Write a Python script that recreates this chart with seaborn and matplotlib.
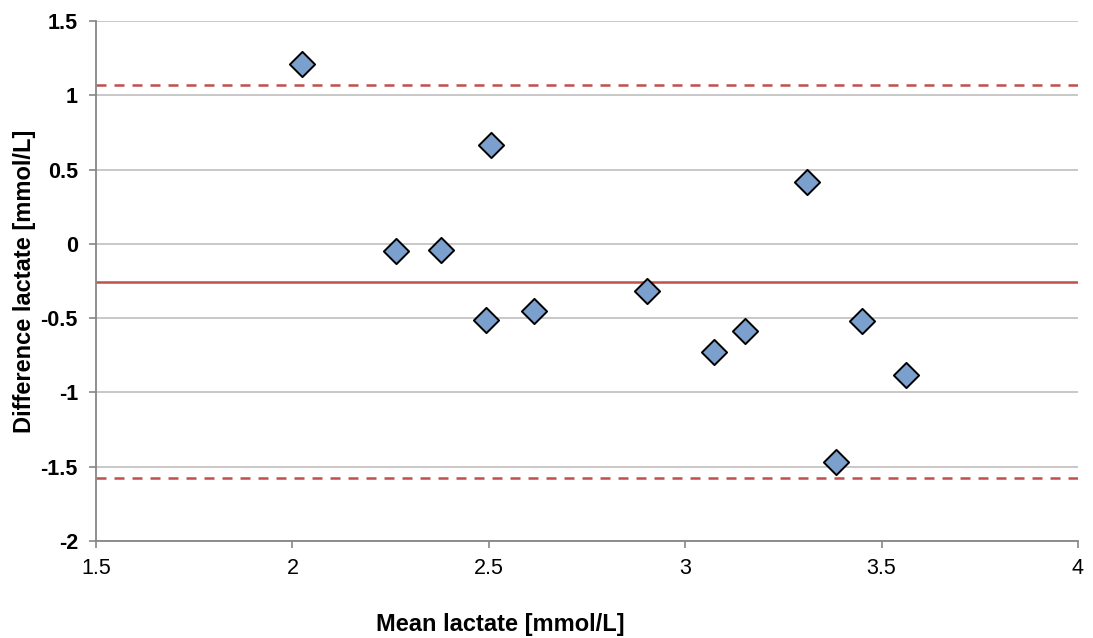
import matplotlib
matplotlib.use("Agg")
import matplotlib.pyplot as plt
import seaborn as sns
import pandas as pd

# Bland-Altman data: mean of the two lactate measurements vs. their difference
mean_lactate = [2.025, 2.263, 2.378, 2.505, 2.492, 2.615, 2.903, 3.074, 3.151, 3.311, 3.383, 3.449, 3.561]
diff_lactate = [1.21, -0.05, -0.04, 0.665, -0.515, -0.455, -0.32, -0.73, -0.585, 0.415, -1.465, -0.52, -0.885]

bias = -0.255
upper_loa = 1.067
lower_loa = -1.577

x_ticks = [1.5, 2, 2.5, 3, 3.5, 4]
y_ticks = [-2, -1.5, -1, -0.5, 0, 0.5, 1, 1.5]

df = pd.DataFrame({"mean": mean_lactate, "diff": diff_lactate})

sns.set_theme(style="white")
plt.rcParams["font.family"] = ["Liberation Sans", "DejaVu Sans"]
plt.rcParams["text.color"] = "black"
plt.rcParams["axes.labelcolor"] = "black"

fig = plt.figure(figsize=(10.93, 6.38), dpi=100)
ax = fig.add_axes([96 / 1093, 1 - 541 / 638, 982 / 1093, 520 / 638])

red = "#C0504D"
grid_c = "#BFBFBF"
spine_c = "#868686"

for yt in y_ticks:
    ax.axhline(yt, color=grid_c, lw=1.2, zorder=0)

ax.axhline(bias, color=red, lw=1.8, zorder=1)
ax.axhline(upper_loa, color=red, lw=1.8, ls=(0, (4, 3.2)), zorder=1)
ax.axhline(lower_loa, color=red, lw=1.8, ls=(0, (4, 3.2)), zorder=1)

sns.scatterplot(data=df, x="mean", y="diff", marker="D", s=165,
                color="#7BA0CD", edgecolor="black", linewidth=1.4,
                ax=ax, zorder=3, legend=False)

ax.set_xlim(1.5, 4)
ax.set_ylim(-2, 1.5)
ax.set_xticks(x_ticks)
ax.set_yticks(y_ticks)
ax.set_xticklabels([f"{v:g}" for v in x_ticks], fontsize=15.5, color="black")
ax.set_yticklabels([f"{v:g}" for v in y_ticks], fontsize=15.5,
                   fontweight="bold", color="black")

for side in ["top", "right"]:
    ax.spines[side].set_visible(False)
for side in ["left", "bottom"]:
    ax.spines[side].set_color(spine_c)
    ax.spines[side].set_linewidth(1.3)

ax.tick_params(axis="both", which="major", direction="out", length=5,
               width=1.2, color=spine_c, bottom=True, left=True)
ax.tick_params(axis="x", pad=7)
ax.tick_params(axis="y", pad=8)

ax.set_xlabel("Mean lactate [mmol/L]", fontsize=17, fontweight="bold")
ax.set_ylabel("Difference lactate [mmol/L]", fontsize=17, fontweight="bold")
ax.xaxis.set_label_coords((500 - 96) / 982, -(613 - 541) / 520)
ax.yaxis.set_label_coords(-(60) / 982, 0.5)

fig.savefig("out.png", dpi=100)
